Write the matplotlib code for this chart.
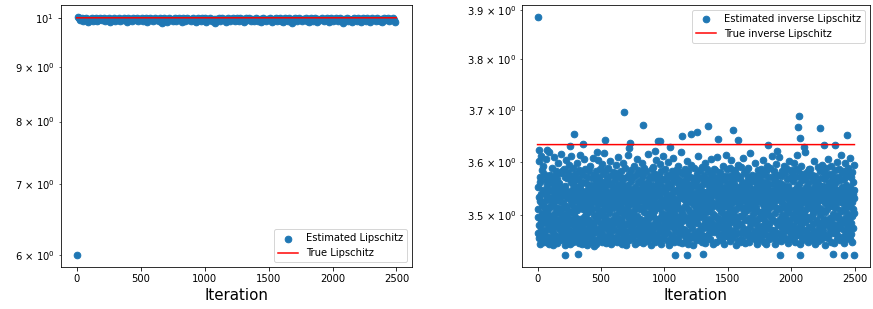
from matplotlib import pyplot as plt
from matplotlib.ticker import FuncFormatter
import numpy as np

n_iter = 2500
true_lip = 10.0
true_inv_lip = 3.633

# estimated Lipschitz, one value every 10 iterations
est_lip = [
    6.0, 10.02, 9.987, 9.962, 9.995, 9.931, 9.978, 9.999, 9.954, 9.912, 9.983, 9.968, 9.996, 9.941, 9.975, 9.991, 9.923, 9.958, 9.997, 9.971, 9.946, 9.989, 9.934, 9.981, 9.964,
    9.998, 9.917, 9.973, 9.952, 9.993, 9.938, 9.984, 9.961, 9.999, 9.926, 9.977, 9.948, 9.994, 9.969, 9.915, 9.986, 9.957, 9.979, 9.933, 9.992, 9.966, 9.944, 9.997, 9.921, 9.982,
    9.959, 9.996, 9.936, 9.974, 9.988, 9.911, 9.965, 9.993, 9.949, 9.981, 9.927, 9.998, 9.956, 9.972, 9.939, 9.985, 9.963, 9.894, 9.991, 9.945, 9.976, 9.919, 9.995, 9.953, 9.984,
    9.942, 9.979, 9.998, 9.925, 9.967, 9.989, 9.951, 9.914, 9.986, 9.972, 9.937, 9.996, 9.958, 9.982, 9.929, 9.969, 9.994, 9.947, 9.913, 9.978, 9.991, 9.955, 9.932, 9.987, 9.962,
    9.993, 9.918, 9.971, 9.944, 9.997, 9.961, 9.935, 9.983, 9.889, 9.976, 9.952, 9.999, 9.924, 9.968, 9.986, 9.943, 9.979, 9.916, 9.995, 9.957, 9.931, 9.974, 9.989, 9.948, 9.921,
    9.985, 9.963, 9.928, 9.994, 9.951, 9.977, 9.912, 9.988, 9.946, 9.969, 9.997, 9.934, 9.981, 9.959, 9.922, 9.992, 9.966, 9.941, 9.984, 9.915, 9.973, 9.996, 9.953, 9.937, 9.979,
    9.947, 9.991, 9.973, 9.917, 9.982, 9.956, 9.998, 9.929, 9.965, 9.987, 9.942, 9.912, 9.976, 9.994, 9.954, 9.933, 9.985, 9.962, 9.896, 9.978, 9.949, 9.993, 9.926, 9.971, 9.988,
    9.958, 9.924, 9.983, 9.967, 9.995, 9.939, 9.974, 9.913, 9.989, 9.952, 9.931, 9.997, 9.963, 9.918, 9.981, 9.945, 9.976, 9.992, 9.927, 9.968, 9.951, 9.986, 9.914, 9.972, 9.998,
    9.936, 9.979, 9.954, 9.993, 9.921, 9.966, 9.988, 9.943, 9.884, 9.975, 9.961, 9.996, 9.932, 9.983, 9.948, 9.916, 9.971, 9.991, 9.957, 9.928, 9.985, 9.964, 9.911, 9.977, 9.994,
    9.969, 9.938, 9.987, 9.955, 9.919, 9.982, 9.997, 9.944, 9.973, 9.926, 9.991, 9.962, 9.935, 9.978, 9.912, 9.986, 9.953, 9.968, 9.995, 9.922, 9.974, 9.947, 9.989, 9.958, 9.909,
]

# estimated inverse Lipschitz, bulk of the cloud (odd iterations)
est_inv = [
    3.512, 3.468, 3.553, 3.497, 3.601, 3.459, 3.534, 3.482, 3.571, 3.448, 3.526, 3.563, 3.491, 3.612, 3.475, 3.539, 3.456, 3.584, 3.503, 3.521, 3.467, 3.548, 3.593, 3.486, 3.517,
    3.452, 3.578, 3.509, 3.463, 3.541, 3.495, 3.566, 3.473, 3.605, 3.528, 3.451, 3.557, 3.489, 3.536, 3.574, 3.461, 3.502, 3.545, 3.478, 3.619, 3.513, 3.447, 3.562, 3.494, 3.531,
    3.576, 3.484, 3.519, 3.458, 3.547, 3.588, 3.471, 3.533, 3.499, 3.565, 3.445, 3.524, 3.481, 3.557, 3.609, 3.466, 3.538, 3.505, 3.573, 3.453, 3.516, 3.549, 3.487, 3.582, 3.462,
    3.529, 3.493, 3.568, 3.449, 3.514, 3.597, 3.477, 3.542, 3.506, 3.459, 3.561, 3.488, 3.527, 3.579, 3.454, 3.535, 3.616, 3.472, 3.551, 3.498, 3.465, 3.583, 3.511, 3.544, 3.479,
    3.457, 3.523, 3.586, 3.492, 3.537, 3.469, 3.555, 3.501, 3.446, 3.572, 3.518, 3.483, 3.603, 3.546, 3.464, 3.532, 3.497, 3.569, 3.455, 3.508, 3.581, 3.474, 3.543, 3.595, 3.487,
    3.538, 3.461, 3.507, 3.574, 3.448, 3.526, 3.563, 3.485, 3.611, 3.519, 3.472, 3.547, 3.494, 3.558, 3.451, 3.531, 3.589, 3.468, 3.504, 3.566, 3.482, 3.539, 3.457, 3.577, 3.513,
    3.496, 3.552, 3.466, 3.529, 3.598, 3.476, 3.541, 3.509, 3.453, 3.567, 3.488, 3.522, 3.584, 3.449, 3.536, 3.471, 3.556, 3.614, 3.493, 3.517, 3.462, 3.548, 3.579, 3.481, 3.525,
    3.563, 3.447, 3.512, 3.488, 3.575, 3.533, 3.459, 3.606, 3.497, 3.544, 3.473, 3.521, 3.586, 3.455, 3.539, 3.502, 3.468, 3.561, 3.492, 3.527, 3.571, 3.446, 3.515, 3.549, 3.484,
    3.506, 3.583, 3.463, 3.535, 3.491, 3.557, 3.474, 3.592, 3.518, 3.452, 3.546, 3.479, 3.528, 3.569, 3.458, 3.511, 3.553, 3.486, 3.608, 3.532, 3.467, 3.501, 3.576, 3.444, 3.543,
    3.477, 3.524, 3.559, 3.495, 3.448, 3.537, 3.582, 3.469, 3.514, 3.564, 3.489, 3.603, 3.531, 3.456, 3.549, 3.505, 3.473, 3.572, 3.498, 3.541, 3.461, 3.587, 3.522, 3.483, 3.555,
    3.534, 3.471, 3.596, 3.508, 3.452, 3.563, 3.487, 3.526, 3.578, 3.464, 3.542, 3.499, 3.617, 3.516, 3.458, 3.551, 3.481, 3.537, 3.585, 3.449, 3.529, 3.494, 3.567, 3.475, 3.512,
    3.558, 3.463, 3.521, 3.589, 3.486, 3.544, 3.455, 3.505, 3.573, 3.478, 3.532, 3.602, 3.467, 3.519, 3.561, 3.447, 3.538, 3.492, 3.554, 3.483, 3.527, 3.581, 3.459, 3.513, 3.546,
    3.489, 3.575, 3.453, 3.536, 3.501, 3.566, 3.474, 3.523, 3.594, 3.461, 3.548, 3.496, 3.533, 3.579, 3.451, 3.515, 3.557, 3.484, 3.609, 3.528, 3.469, 3.541, 3.506, 3.572, 3.457,
    3.518, 3.554, 3.476, 3.583, 3.493, 3.539, 3.448, 3.526, 3.562, 3.487, 3.511, 3.598, 3.465, 3.547, 3.503, 3.456, 3.569, 3.482, 3.535, 3.588, 3.471, 3.524, 3.552, 3.446, 3.509,
    3.545, 3.498, 3.571, 3.462, 3.529, 3.613, 3.485, 3.517, 3.556, 3.454, 3.536, 3.491, 3.577, 3.473, 3.543, 3.507, 3.585, 3.459, 3.522, 3.564, 3.479, 3.531, 3.495, 3.548, 3.466,
    3.572, 3.504, 3.458, 3.541, 3.486, 3.593, 3.521, 3.467, 3.553, 3.512, 3.447, 3.538, 3.576, 3.489, 3.526, 3.606, 3.474, 3.545, 3.499, 3.563, 3.452, 3.516, 3.584, 3.481, 3.534,
    3.463, 3.548, 3.511, 3.579, 3.494, 3.527, 3.456, 3.566, 3.483, 3.539, 3.597, 3.471, 3.514, 3.555, 3.449, 3.532, 3.487, 3.574, 3.506, 3.461, 3.543, 3.588, 3.477, 3.521, 3.558,
    3.492, 3.535, 3.468, 3.582, 3.517, 3.453, 3.561, 3.502, 3.547, 3.615, 3.484, 3.529, 3.475, 3.568, 3.496, 3.541, 3.458, 3.524, 3.573, 3.465, 3.551, 3.509, 3.445, 3.537, 3.586,
    3.519, 3.473, 3.556, 3.498, 3.532, 3.591, 3.462, 3.544, 3.485, 3.569, 3.508, 3.451, 3.525, 3.578, 3.479, 3.536, 3.604, 3.493, 3.515, 3.557, 3.466, 3.542, 3.488, 3.564, 3.454,
    3.549, 3.482, 3.575, 3.513, 3.457, 3.538, 3.596, 3.471, 3.523, 3.561, 3.448, 3.531, 3.497, 3.583, 3.476, 3.546, 3.505, 3.567, 3.459, 3.528, 3.611, 3.491, 3.553, 3.483, 3.518,
    3.466, 3.541, 3.587, 3.501, 3.549, 3.474, 3.523, 3.565, 3.455, 3.534, 3.492, 3.576, 3.512, 3.468, 3.552, 3.599, 3.486, 3.527, 3.446, 3.559, 3.503, 3.538, 3.481, 3.571, 3.516,
    3.557, 3.453, 3.529, 3.494, 3.583, 3.537, 3.463, 3.516, 3.607, 3.478, 3.545, 3.508, 3.566, 3.451, 3.524, 3.489, 3.574, 3.531, 3.472, 3.548, 3.499, 3.585, 3.457, 3.521, 3.563,
    3.484, 3.526, 3.568, 3.461, 3.543, 3.592, 3.497, 3.514, 3.452, 3.556, 3.479, 3.535, 3.581, 3.467, 3.509, 3.547, 3.618, 3.488, 3.532, 3.449, 3.564, 3.505, 3.541, 3.475, 3.577,
    3.535, 3.498, 3.464, 3.553, 3.518, 3.586, 3.473, 3.529, 3.562, 3.456, 3.544, 3.491, 3.601, 3.524, 3.469, 3.572, 3.511, 3.448, 3.539, 3.582, 3.485, 3.557, 3.495, 3.528, 3.459,
    3.571, 3.507, 3.547, 3.482, 3.525, 3.462, 3.594, 3.536, 3.476, 3.558, 3.502, 3.445, 3.533, 3.569, 3.487, 3.519, 3.554, 3.465, 3.588, 3.542, 3.496, 3.527, 3.458, 3.566, 3.512,
    3.493, 3.561, 3.454, 3.528, 3.577, 3.486, 3.543, 3.505, 3.612, 3.471, 3.537, 3.516, 3.459, 3.552, 3.497, 3.584, 3.524, 3.466, 3.548, 3.481, 3.569, 3.509, 3.452, 3.533, 3.591,
    3.522, 3.476, 3.558, 3.499, 3.541, 3.463, 3.575, 3.514, 3.488, 3.597, 3.531, 3.449, 3.563, 3.506, 3.544, 3.478, 3.526, 3.586, 3.461, 3.539, 3.494, 3.568, 3.483, 3.518, 3.554,
    3.467, 3.545, 3.508, 3.579, 3.456, 3.532, 3.492, 3.563, 3.527, 3.474, 3.605, 3.515, 3.551, 3.486, 3.538, 3.447, 3.573, 3.503, 3.546, 3.469, 3.587, 3.521, 3.479, 3.556, 3.498,
    3.541, 3.584, 3.472, 3.519, 3.562, 3.451, 3.536, 3.495, 3.549, 3.609, 3.484, 3.527, 3.571, 3.464, 3.513, 3.557, 3.493, 3.534, 3.455, 3.581, 3.524, 3.476, 3.542, 3.507, 3.566,
    3.513, 3.457, 3.547, 3.489, 3.593, 3.528, 3.466, 3.553, 3.502, 3.574, 3.448, 3.539, 3.481, 3.518, 3.565, 3.497, 3.543, 3.614, 3.471, 3.525, 3.587, 3.462, 3.531, 3.494, 3.559,
    3.482, 3.537, 3.574, 3.506, 3.461, 3.549, 3.516, 3.589, 3.473, 3.528, 3.453, 3.561, 3.498, 3.544, 3.603, 3.487, 3.522, 3.566, 3.458, 3.535, 3.509, 3.578, 3.469, 3.551, 3.492,
    3.558, 3.501, 3.465, 3.532, 3.584, 3.478, 3.547, 3.512, 3.446, 3.569, 3.491, 3.538, 3.576, 3.455, 3.524, 3.595, 3.484, 3.553, 3.519, 3.467, 3.541, 3.499, 3.572, 3.526, 3.451,
    3.527, 3.591, 3.485, 3.541, 3.498, 3.563, 3.457, 3.514, 3.552, 3.476, 3.608, 3.533, 3.468, 3.545, 3.504, 3.579, 3.492, 3.528, 3.449, 3.556, 3.517, 3.583, 3.473, 3.539, 3.562,
    3.474, 3.546, 3.509, 3.571, 3.463, 3.535, 3.588, 3.496, 3.524, 3.451, 3.557, 3.488, 3.542, 3.617, 3.479, 3.513, 3.567, 3.458, 3.531, 3.494, 3.575, 3.521, 3.466, 3.549, 3.503,
    3.539, 3.461, 3.522, 3.564, 3.487, 3.598, 3.531, 3.472, 3.547, 3.508, 3.454, 3.573, 3.515, 3.482, 3.559, 3.526, 3.447, 3.538, 3.585, 3.493, 3.544, 3.469, 3.506, 3.568, 3.477,
    3.551, 3.495, 3.578, 3.464, 3.532, 3.507, 3.586, 3.456, 3.523, 3.562, 3.481, 3.539, 3.604, 3.497, 3.548, 3.471, 3.517, 3.575, 3.452, 3.536, 3.489, 3.557, 3.512, 3.466, 3.583,
    3.508, 3.563, 3.448, 3.529, 3.476, 3.552, 3.593, 3.503, 3.541, 3.462, 3.527, 3.571, 3.485, 3.514, 3.456, 3.546, 3.499, 3.589, 3.534, 3.473, 3.558, 3.521, 3.611, 3.491, 3.537,
    3.464, 3.525, 3.572, 3.491, 3.546, 3.459, 3.518, 3.583, 3.474, 3.537, 3.505, 3.566, 3.447, 3.552, 3.488, 3.529, 3.596, 3.468, 3.543, 3.513, 3.575, 3.482, 3.531, 3.454, 3.561,
    3.532, 3.486, 3.609, 3.547, 3.512, 3.465, 3.561, 3.493, 3.528, 3.574, 3.453, 3.539, 3.501, 3.583, 3.477, 3.522, 3.556, 3.463, 3.546, 3.487, 3.592, 3.515, 3.471, 3.535, 3.579,
    3.497, 3.551, 3.475, 3.519, 3.588, 3.541, 3.457, 3.506, 3.567, 3.484, 3.533, 3.449, 3.555, 3.511, 3.601, 3.472, 3.544, 3.492, 3.569, 3.526, 3.461, 3.538, 3.584, 3.479, 3.516,
    3.546, 3.468, 3.535, 3.577, 3.502, 3.456, 3.564, 3.521, 3.483, 3.548, 3.597, 3.495, 3.531, 3.462, 3.516, 3.572, 3.451, 3.539, 3.507, 3.586, 3.474, 3.552, 3.489, 3.527, 3.613,
    3.523, 3.582, 3.477, 3.543, 3.496, 3.559, 3.464, 3.531, 3.508, 3.448, 3.571, 3.517, 3.482, 3.547, 3.593, 3.469, 3.536, 3.501, 3.565, 3.455, 3.524, 3.578, 3.491, 3.542, 3.473,
    3.458, 3.536, 3.504, 3.567, 3.488, 3.619, 3.527, 3.471, 3.553, 3.512, 3.581, 3.463, 3.542, 3.497, 3.534, 3.452, 3.561, 3.519, 3.586, 3.479, 3.548, 3.493, 3.529, 3.574, 3.466,
    3.587, 3.513, 3.461, 3.549, 3.478, 3.531, 3.576, 3.498, 3.455, 3.542, 3.505, 3.566, 3.484, 3.524, 3.602, 3.471, 3.538, 3.559, 3.447, 3.517, 3.573, 3.492, 3.551, 3.463, 3.534,
    3.509, 3.562, 3.487, 3.525, 3.591, 3.453, 3.546, 3.516, 3.476, 3.557, 3.538, 3.466, 3.583, 3.501, 3.529, 3.481, 3.569, 3.544, 3.457, 3.511, 3.595, 3.488, 3.532, 3.475, 3.554,
    3.472, 3.539, 3.581, 3.494, 3.553, 3.461, 3.522, 3.567, 3.507, 3.446, 3.536, 3.589, 3.483, 3.547, 3.512, 3.464, 3.575, 3.526, 3.491, 3.606, 3.543, 3.458, 3.518, 3.561, 3.485,
    3.557, 3.496, 3.534, 3.473, 3.578, 3.519, 3.452, 3.548, 3.592, 3.486, 3.529, 3.566, 3.467, 3.541, 3.503, 3.574, 3.479, 3.515, 3.554, 3.449, 3.537, 3.584, 3.497, 3.527, 3.468,
    3.514, 3.471, 3.563, 3.528, 3.457, 3.545, 3.599, 3.482, 3.536, 3.501, 3.572, 3.463, 3.524, 3.587, 3.493, 3.548, 3.455, 3.531, 3.566, 3.477, 3.509, 3.614, 3.486, 3.543, 3.579,
    3.489, 3.552, 3.508, 3.461, 3.583, 3.537, 3.474, 3.521, 3.568, 3.449, 3.546, 3.495, 3.532, 3.597, 3.466, 3.513, 3.556, 3.484, 3.541, 3.578, 3.459, 3.527, 3.502, 3.588, 3.473,
    3.544, 3.478, 3.529, 3.573, 3.492, 3.607, 3.517, 3.456, 3.553, 3.486, 3.538, 3.571, 3.465, 3.524, 3.499, 3.581, 3.451, 3.539, 3.512, 3.563, 3.476, 3.548, 3.594, 3.505, 3.532,
]

# points that stick out of the cloud
out_iter = [0, 8, 76, 259, 285, 355, 470, 535, 679, 718, 729, 831, 925, 946, 964, 1048, 1142, 1207, 1256,
            1348, 1426, 1541, 1580, 1818, 1891, 2051, 2064, 2066, 2098, 2226, 2262, 2348, 2443,
            219, 319, 1084, 1181, 1303, 1912, 2069, 2329, 2413, 2495]
out_inv = [3.886, 3.623, 3.623, 3.631, 3.653, 3.634, 3.619, 3.641, 3.695, 3.626, 3.637, 3.670, 3.620, 3.640, 3.640, 3.628, 3.650, 3.653, 3.658,
           3.668, 3.643, 3.661, 3.641, 3.632, 3.620, 3.666, 3.688, 3.646, 3.628, 3.664, 3.632, 3.632, 3.652,
           3.428, 3.429, 3.428, 3.427, 3.429, 3.428, 3.428, 3.429, 3.428, 3.428]


def sciLabel(v, pos):
    # "3.5 × 10^0" style, with spaces round the times sign
    e = int(np.floor(np.log10(v) + 1e-9))
    c = v / 10 ** e
    if abs(c - 1) < 1e-6:
        return r'$\mathdefault{10^{%d}}$' % e
    return '%g × 10$^{%d}$' % (round(c, 3), e)


def panel(ax, x, y, true_val, est_label, true_label, loc):
    ax.scatter(x, y, s=44, label=est_label)
    ax.plot(it_all, np.full(n_iter, true_val), 'r', label=true_label)
    ax.set_yscale('log')
    ax.yaxis.set_major_formatter(FuncFormatter(sciLabel))
    ax.yaxis.set_minor_formatter(FuncFormatter(sciLabel))
    ax.set_xlabel('Iteration', size=15)
    ax.legend(loc=loc)


it_all = np.arange(n_iter)
it_lip = np.arange(0, n_iter, 10)
it_inv = np.concatenate([np.arange(1, n_iter, 2), out_iter])
inv_all = np.concatenate([est_inv, out_inv])

fig = plt.figure(figsize=(873 / 72, 309 / 72), dpi=72)
ax1 = fig.add_axes([0.0695, 0.135, 0.4028, 0.849])
ax2 = fig.add_axes([0.5976, 0.135, 0.3993, 0.849])

panel(ax1, it_lip, est_lip, true_lip, 'Estimated Lipschitz', 'True Lipschitz', 'lower right')
panel(ax2, it_inv, inv_all, true_inv_lip, 'Estimated inverse Lipschitz', 'True inverse Lipschitz', 'upper right')

fig.savefig('out.png', dpi=72)
